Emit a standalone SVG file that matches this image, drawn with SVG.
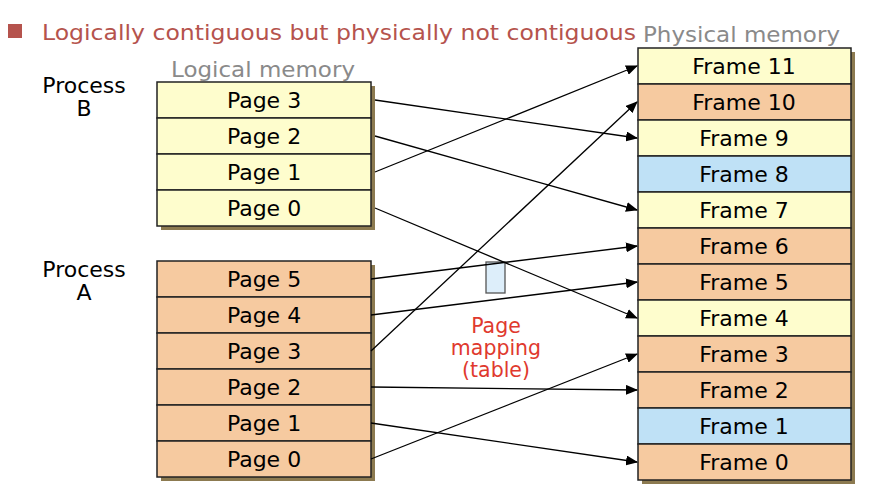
<svg xmlns="http://www.w3.org/2000/svg" width="873" height="486" viewBox="0 0 873 486">
<style>
text{font-family:"DejaVu Sans",Verdana,sans-serif;}
.lbl{font-size:22px;fill:#000;text-anchor:middle;}
.grey{font-size:21px;fill:#8a8a8a;}
.proc{font-size:22px;fill:#000;text-anchor:middle;}
.y{fill:#fefdcd;stroke:#222;stroke-width:1.5;}
.o{fill:#f6caa0;stroke:#222;stroke-width:1.5;}
.b{fill:#bfe1f6;stroke:#222;stroke-width:1.5;}
.sh{fill:#8c7a50;}
.c line{stroke:#000;stroke-width:1.3;marker-end:url(#ah);}
.red{font-size:20.5px;fill:#e0392e;text-anchor:middle;}
</style>
<defs>
<marker id="ah" markerWidth="12" markerHeight="10" refX="11" refY="5" orient="auto" markerUnits="userSpaceOnUse">
<path d="M0,0 L12,5 L0,10 Z" fill="#000"/>
</marker>
</defs>
<rect width="873" height="486" fill="#fff"/>
<g id="title">
<rect x="8" y="24" width="14" height="14" fill="#b5534d"/>
<text x="42" y="40" font-size="22" fill="#b5534d" textLength="594" lengthAdjust="spacingAndGlyphs">Logically contiguous but physically not contiguous</text>
</g>
<text class="grey" x="643" y="42" textLength="197" lengthAdjust="spacingAndGlyphs">Physical memory</text>
<text class="grey" x="171" y="77" textLength="184" lengthAdjust="spacingAndGlyphs">Logical memory</text>
<g id="processB"><text class="proc" x="84" y="93">Process</text><text class="proc" x="84" y="116">B</text></g>
<g id="processA"><text class="proc" x="84" y="277">Process</text><text class="proc" x="84" y="300">A</text></g>

<g id="logicalB">
<rect class="sh" x="161" y="86" width="214" height="144"/>
<rect class="y" x="157" y="82" width="214" height="36"/><text class="lbl" x="264" y="108">Page 3</text>
<rect class="y" x="157" y="118" width="214" height="36"/><text class="lbl" x="264" y="144">Page 2</text>
<rect class="y" x="157" y="154" width="214" height="36"/><text class="lbl" x="264" y="180">Page 1</text>
<rect class="y" x="157" y="190" width="214" height="36"/><text class="lbl" x="264" y="216">Page 0</text>
</g>
<g id="logicalA">
<rect class="sh" x="161" y="265" width="214" height="216"/>
<rect class="o" x="157" y="261" width="214" height="36"/><text class="lbl" x="264" y="287">Page 5</text>
<rect class="o" x="157" y="297" width="214" height="36"/><text class="lbl" x="264" y="323">Page 4</text>
<rect class="o" x="157" y="333" width="214" height="36"/><text class="lbl" x="264" y="359">Page 3</text>
<rect class="o" x="157" y="369" width="214" height="36"/><text class="lbl" x="264" y="395">Page 2</text>
<rect class="o" x="157" y="405" width="214" height="36"/><text class="lbl" x="264" y="431">Page 1</text>
<rect class="o" x="157" y="441" width="214" height="36"/><text class="lbl" x="264" y="467">Page 0</text>
</g>
<g id="physical">
<rect class="sh" x="642" y="52" width="213" height="432"/>
<rect class="y" x="638" y="48" width="213" height="36"/><text class="lbl" x="744" y="74">Frame 11</text>
<rect class="o" x="638" y="84" width="213" height="36"/><text class="lbl" x="744" y="110">Frame 10</text>
<rect class="y" x="638" y="120" width="213" height="36"/><text class="lbl" x="744" y="146">Frame 9</text>
<rect class="b" x="638" y="156" width="213" height="36"/><text class="lbl" x="744" y="182">Frame 8</text>
<rect class="y" x="638" y="192" width="213" height="36"/><text class="lbl" x="744" y="218">Frame 7</text>
<rect class="o" x="638" y="228" width="213" height="36"/><text class="lbl" x="744" y="254">Frame 6</text>
<rect class="o" x="638" y="264" width="213" height="36"/><text class="lbl" x="744" y="290">Frame 5</text>
<rect class="y" x="638" y="300" width="213" height="36"/><text class="lbl" x="744" y="326">Frame 4</text>
<rect class="o" x="638" y="336" width="213" height="36"/><text class="lbl" x="744" y="362">Frame 3</text>
<rect class="o" x="638" y="372" width="213" height="36"/><text class="lbl" x="744" y="398">Frame 2</text>
<rect class="b" x="638" y="408" width="213" height="36"/><text class="lbl" x="744" y="434">Frame 1</text>
<rect class="o" x="638" y="444" width="213" height="36"/><text class="lbl" x="744" y="470">Frame 0</text>
</g>
<g id="pagetable">
<rect x="486" y="262" width="19" height="31" fill="#ddeefa" stroke="#555" stroke-width="1.3"/>
<text class="red" x="496" y="333">Page</text>
<text class="red" x="496" y="355">mapping</text>
<text class="red" x="496" y="377">(table)</text>
</g>
<g class="c" id="connectors">
<line x1="375" y1="100" x2="637" y2="138"/>
<line x1="375" y1="136" x2="637" y2="210"/>
<line x1="375" y1="172" x2="637" y2="66"/>
<line x1="375" y1="208" x2="637" y2="318"/>
<line x1="371" y1="279" x2="637" y2="246"/>
<line x1="371" y1="315" x2="637" y2="282"/>
<line x1="371" y1="351" x2="637" y2="102"/>
<line x1="371" y1="387" x2="637" y2="390"/>
<line x1="371" y1="423" x2="637" y2="462"/>
<line x1="371" y1="459" x2="637" y2="354"/>
</g>
</svg>
